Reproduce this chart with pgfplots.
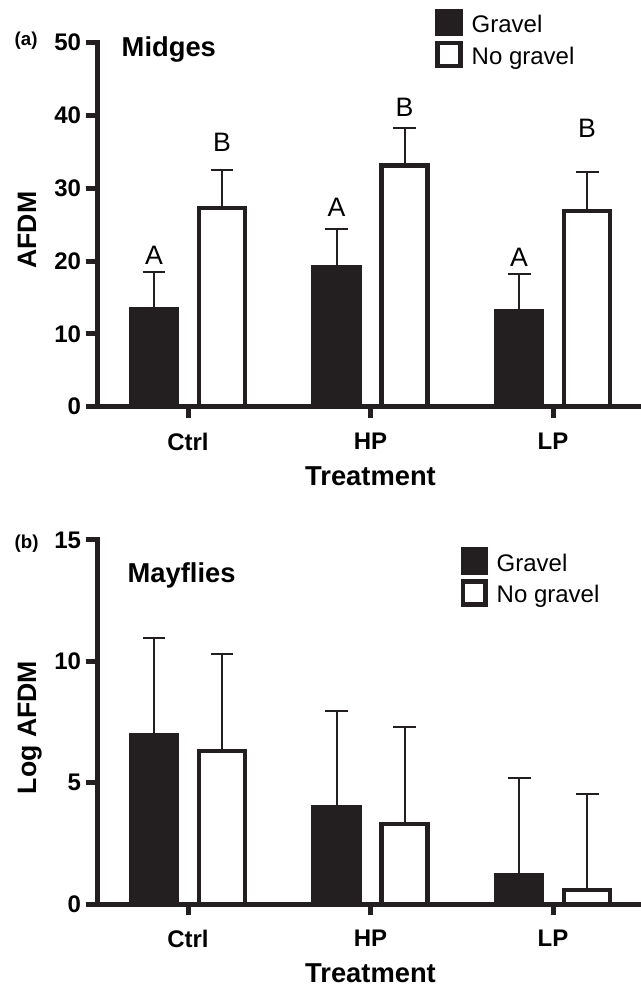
\documentclass[border=0pt]{standalone}
\usepackage{pgfplots}
\pgfplotsset{compat=1.18}
\usepackage{fontspec}
\setmainfont{Liberation Sans}
\definecolor{bk}{RGB}{35,31,32}
\newcommand{\fsz}[1]{\fontsize{#1}{#1}\selectfont}
\pgfplotsset{
 panel/.style={
  scale only axis, width=408pt, height=273pt,
  xmin=-0.4986, xmax=2.482, ymin=0,
  axis x line=bottom, axis y line=left,
  axis line style={line width=3.75pt, draw=bk, -, line cap=rect},
  tick style={line width=3.75pt, draw=bk},
  tick align=outside, major tick length=8.5pt,
  xtick={0,1,2}, xticklabels={Ctrl,HP,LP},
  ticklabel style={font=\bfseries\fsz{18}},
  xticklabel style={yshift=-7.5pt},
  /pgf/number format/assume math mode=true,
  ybar, bar width=34.5pt,
  clip=false,
  xlabel=Treatment,
  xlabel style={font=\bfseries\fsz{20.5}, at={(axis description cs:0.5028,-0.2157)}, anchor=base},
  ylabel style={font=\bfseries\fsz{20}, at={(axis description cs:-0.1121,0.485)}, anchor=base},
  legend image code/.code={\draw[#1, line width=3.4pt] (0pt,-6.8pt) rectangle (17pt,10.2pt);},
  legend style={draw=none, fill=none, inner sep=0pt, outer sep=0pt, column sep=6.75pt, row sep=3.5pt, font=\fsz{18}, nodes={inner sep=0pt}, anchor=north west},
  legend cell align=left,
 },
 gbar/.style={fill=bk, draw=bk, line width=3.4pt, bar shift=-25.5pt,
   error bars/.cd, y dir=plus, y explicit,
   error bar style={line width=1.5pt, draw=bk},
   error mark options={rotate=90, mark size=8.6pt, line width=1.5pt, draw=bk}},
 nbar/.style={fill=white, draw=bk, line width=3.4pt, bar shift=25.5pt,
   error bars/.cd, y dir=plus, y explicit,
   error bar style={line width=1.5pt, draw=bk},
   error mark options={rotate=90, mark size=8.6pt, line width=1.5pt, draw=bk}},
}
\begin{document}
\begin{tikzpicture}
\begin{axis}[panel, at={(72.75pt,435.2pt)}, anchor=south west,
  ymax=50, ytick={0,10,20,30,40,50}, ylabel={AFDM},
  legend style={at={(axis description cs:0.6222,1.0925)}}]
\addplot[gbar] coordinates {(0,13.4) +- (0,5.1) (1,19.2) +- (0,5.2) (2,13.1) +- (0,5.1)};
\addlegendentry{Gravel}
\addplot[nbar] coordinates {(0,27.3) +- (0,5.2) (1,33.1) +- (0,5.2) (2,26.9) +- (0,5.3)};
\addlegendentry{No gravel}
\node[font=\bfseries\fsz{20.5}, anchor=base west] at (axis description cs:0.0368,0.9635) {Midges};
\node[font=\bfseries\fsz{14}, anchor=base west] at (axis description cs:-0.16,0.9937) {(a)};
\node[font=\fsz{20}, anchor=base] at ([xshift=-25.5pt]axis cs:0,19.6) {A};
\node[font=\fsz{20}, anchor=base] at ([xshift=25.5pt]axis cs:0,35.1) {B};
\node[font=\fsz{20}, anchor=base] at ([xshift=-25.5pt]axis cs:1,26.1) {A};
\node[font=\fsz{20}, anchor=base] at ([xshift=25.5pt]axis cs:1,39.8) {B};
\node[font=\fsz{20}, anchor=base] at ([xshift=-25.5pt]axis cs:2,19.2) {A};
\node[font=\fsz{20}, anchor=base] at ([xshift=25.5pt]axis cs:2,37.0) {B};
\end{axis}
\begin{axis}[panel, at={(72.75pt,62.25pt)}, anchor=south west,
  ymax=15, ytick={0,5,10,15}, ylabel={Log AFDM},
  legend style={at={(axis description cs:0.6682,0.9795)}}]
\addplot[gbar] coordinates {(0,6.96) +- (0,4.0) (1,3.98) +- (0,3.97) (2,1.2) +- (0,4.0)};
\addlegendentry{Gravel}
\addplot[nbar] coordinates {(0,6.31) +- (0,4.0) (1,3.29) +- (0,4.02) (2,0.57) +- (0,3.96)};
\addlegendentry{No gravel}
\node[font=\bfseries\fsz{20.5}, anchor=base west] at (axis description cs:0.0478,0.884) {Mayflies};
\node[font=\bfseries\fsz{14}, anchor=base west] at (axis description cs:-0.16,0.978) {(b)};
\end{axis}
\pgfresetboundingbox
\path[use as bounding box] (0,0) rectangle (480.75pt,740.25pt);
\end{tikzpicture}
\end{document}
